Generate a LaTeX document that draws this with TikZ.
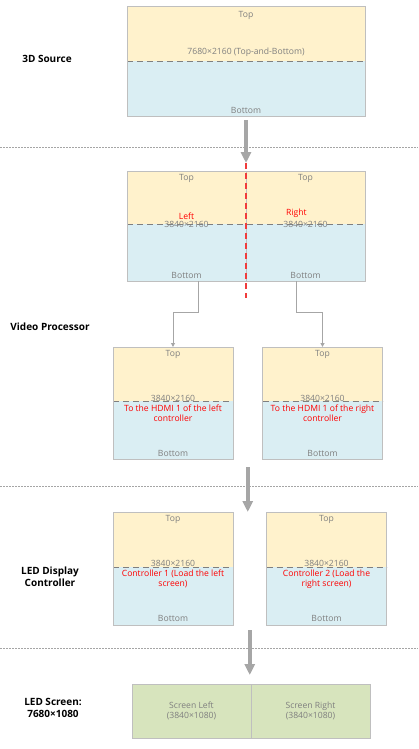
\documentclass[tikz,border=0pt]{standalone}
\usepackage{fontspec}
\setmainfont{Open Sans}
\usetikzlibrary{arrows.meta,positioning,calc}
\definecolor{topyellow}{HTML}{FFF2CC}
\definecolor{botblue}{HTML}{DAEEF3}
\definecolor{scrgreen}{HTML}{D7E4BD}
\definecolor{edgegray}{HTML}{BFBFBF}
\definecolor{txtgray}{HTML}{7F7F7F}
\definecolor{arrgray}{HTML}{A6A6A6}
\definecolor{splitred}{HTML}{F03C3C}

\begin{document}
\begin{tikzpicture}[x=1pt, y=-1pt,
  tophalf/.style={fill=topyellow, minimum width=120pt, inner sep=0pt, outer sep=0pt},
  bothalf/.style={fill=botblue, minimum width=120pt, inner sep=0pt, outer sep=0pt},
  scrbox/.style={draw=edgegray, fill=scrgreen, line width=0.9pt,
                 minimum width=119pt, minimum height=54pt, inner sep=0pt,
                 outer sep=0pt, align=center, text=txtgray,
                 font=\fontsize{8.6}{10.5}\selectfont},
  frame/.style={draw=edgegray, line width=1pt},
  divdash/.style={draw=txtgray, line width=0.9pt, dash pattern=on 6pt off 4pt},
  gtxt/.style={text=txtgray, inner sep=1pt, font=\fontsize{8.6}{10}\selectfont},
  rtxt/.style={text=red, inner sep=1pt, align=center, font=\fontsize{8.6}{10}\selectfont},
  lbl/.style={align=center, font=\bfseries\fontsize{10}{12}\selectfont},
  sep/.style={draw=txtgray!70, line width=0.8pt, dash pattern=on 1.5pt off 1.5pt},
  conn/.style={draw=arrgray, line width=1pt, -{Triangle[width=4pt,length=4pt]}},
  bigarr/.style={draw=arrgray, line width=3.5pt, -{Triangle[width=10pt,length=11pt]}},
  splitdash/.style={draw=splitred, line width=1.2pt, dash pattern=on 6pt off 4pt}
]
  \useasboundingbox (0,0) rectangle (418,749);

  %% Stage labels
  \node[lbl] (l1) at (47,59) {3D Source};
  \node[lbl] (l2) at (50,327) {Video Processor};
  \node[lbl] (l3) at (50,577) {LED Display\\Controller};
  \node[lbl] (l4) at (53,708) {LED Screen:\\7680×1080};

  %% Stage separators
  \draw[sep] (0,147) -- (418,147);
  \draw[sep] (0,486) -- (418,486);
  \draw[sep] (0,648) -- (418,648);

  %% 3D source
  \node[tophalf, minimum width=238pt, minimum height=54pt] (srcT) at (246,34) {};
  \node[bothalf, minimum width=238pt, minimum height=56pt, below=0pt of srcT] (srcB) {};
  \draw[divdash] (srcT.south west) -- (srcT.south east);
  \draw[frame] (srcT.north west) rectangle (srcB.south east);
  \node[gtxt, below=3pt of srcT.north] {Top};
  \node[gtxt, above=3pt of srcT.south] {7680×2160 (Top-and-Bottom)};
  \node[gtxt, above=2pt of srcB.south] {Bottom};

  %% Video processor split
  \node[tophalf, minimum width=119pt, minimum height=53pt] (vpLT) at (186.5,197.5) {};
  \node[tophalf, minimum width=119pt, minimum height=53pt, right=0pt of vpLT] (vpRT) {};
  \node[bothalf, minimum width=119pt, minimum height=57pt, below=0pt of vpLT] (vpLB) {};
  \node[bothalf, minimum width=119pt, minimum height=57pt, below=0pt of vpRT] (vpRB) {};
  \draw[divdash] (vpLT.south west) -- (vpRT.south east);
  \draw[frame] (vpLT.north west) rectangle (vpRB.south east);
  \draw[frame] (vpLT.north east) -- (vpLB.south east);
  \node[gtxt, below=2pt of vpLT.north] {Top};
  \node[gtxt, below=2pt of vpRT.north] {Top};
  \node[rtxt, above=3pt of vpLT.south] {Left};
  \node[rtxt, above=5pt of vpRT.south, xshift=-9pt] {Right};
  \node[gtxt] at (vpLT.south) {3840×2160};
  \node[gtxt] at (vpRT.south) {3840×2160};
  \node[gtxt, above=1pt of vpLB.south] {Bottom};
  \node[gtxt, above=1pt of vpRB.south] {Bottom};

  %% To the controllers
  \node[tophalf, minimum height=54pt] (hdmiLT) at (173,374) {};
  \node[bothalf, minimum height=58pt, below=0pt of hdmiLT] (hdmiLB) {};
  \node[tophalf, minimum height=54pt] (hdmiRT) at (322.5,374) {};
  \node[bothalf, minimum height=58pt, below=0pt of hdmiRT] (hdmiRB) {};
  \draw[divdash] (hdmiLT.south west) -- (hdmiLT.south east);
  \draw[divdash] (hdmiRT.south west) -- (hdmiRT.south east);
  \draw[frame] (hdmiLT.north west) rectangle (hdmiLB.south east);
  \draw[frame] (hdmiRT.north west) rectangle (hdmiRB.south east);
  \node[gtxt, below=2pt of hdmiLT.north] {Top};
  \node[gtxt, below=2pt of hdmiRT.north] {Top};
  \node[gtxt, above=-2pt of hdmiLT.south] {3840×2160};
  \node[gtxt, above=-2pt of hdmiRT.south] {3840×2160};
  \node[rtxt, below=3pt of hdmiLB.north] {To the HDMI 1 of the left\\controller};
  \node[rtxt, below=3pt of hdmiRB.north] {To the HDMI 1 of the right\\controller};
  \node[gtxt, above=1pt of hdmiLB.south] {Bottom};
  \node[gtxt, above=1pt of hdmiRB.south] {Bottom};

  %% LED display controllers
  \node[tophalf, minimum height=55pt] (ctrlLT) at (173,539.5) {};
  \node[bothalf, minimum height=58pt, below=0pt of ctrlLT] (ctrlLB) {};
  \node[tophalf, minimum height=55pt] (ctrlRT) at (326.5,539.5) {};
  \node[bothalf, minimum height=58pt, below=0pt of ctrlRT] (ctrlRB) {};
  \draw[divdash] (ctrlLT.south west) -- (ctrlLT.south east);
  \draw[divdash] (ctrlRT.south west) -- (ctrlRT.south east);
  \draw[frame] (ctrlLT.north west) rectangle (ctrlLB.south east);
  \draw[frame] (ctrlRT.north west) rectangle (ctrlRB.south east);
  \node[gtxt, below=2pt of ctrlLT.north] {Top};
  \node[gtxt, below=2pt of ctrlRT.north] {Top};
  \node[gtxt, above=-1pt of ctrlLT.south] {3840×2160};
  \node[gtxt, above=-1pt of ctrlRT.south] {3840×2160};
  \node[rtxt, below=2pt of ctrlLB.north] {Controller 1 (Load the left\\screen)};
  \node[rtxt, below=2pt of ctrlRB.north] {Controller 2 (Load the\\right screen)};
  \node[gtxt, above=2pt of ctrlLB.south] {Bottom};
  \node[gtxt, above=2pt of ctrlRB.south] {Bottom};

  %% LED screen
  \node[scrbox] (scrL) at (191.5,711) {Screen Left\\(3840×1080)};
  \node[scrbox, right=0pt of scrL] (scrR) {Screen Right\\(3840×1080)};

  %% Arrows
  \draw[bigarr] ($(srcB.south)+(0,3)$) -- ($(vpLT.north east)+(0,-8)$);
  \draw[splitdash] ($(vpLT.north east)+(0,-8)$) -- ($(vpLB.south east)+(0,17)$);
  \draw[conn] ($(vpLB.south)+(12,0)$) |- ($(hdmiLT.north)+(0,-35)$) -- (hdmiLT.north);
  \draw[conn] ($(vpRB.south)+(-9,0)$) |- ($(hdmiRT.north)+(0,-35)$) -- (hdmiRT.north);
  \coordinate (a2s) at ($(hdmiLB.south east)!.5!(hdmiRB.south west)+(0,8)$);
  \draw[bigarr] (a2s) -- (a2s |- ctrlLT.north);
  \coordinate (a3s) at ($(ctrlLB.south east)!.5!(ctrlRB.south west)+(0,5)$);
  \draw[bigarr] (a3s) -- ($(a3s |- scrL.north)+(0,-9)$);
\end{tikzpicture}
\end{document}
